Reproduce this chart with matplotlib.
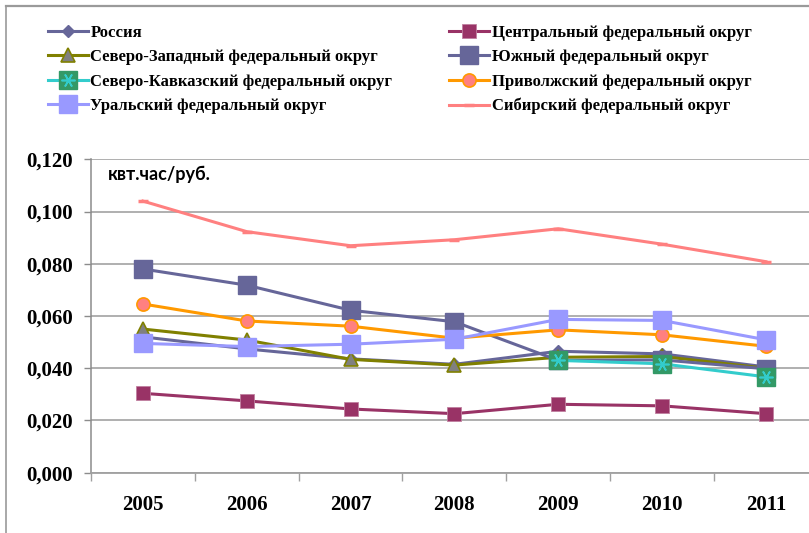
import matplotlib
matplotlib.use("Agg")
import matplotlib.pyplot as plt
from matplotlib.lines import Line2D
from matplotlib.legend_handler import HandlerTuple

years = ["2005", "2006", "2007", "2008", "2009", "2010", "2011"]
y_ticks = [0.000, 0.020, 0.040, 0.060, 0.080, 0.100, 0.120]
y_tick_labels = ["0,000", "0,020", "0,040", "0,060", "0,080", "0,100", "0,120"]
unit_label = "квт.час/руб."

russia = [0.0520, 0.0474, 0.0436, 0.0415, 0.0465, 0.0455, 0.0405]
central = [0.0304, 0.0275, 0.0244, 0.0226, 0.0262, 0.0256, 0.0226]
northwest = [0.0550, 0.0508, 0.0434, 0.0412, 0.0442, 0.0445, 0.0400]
south = [0.0780, 0.0718, 0.0622, 0.0578, 0.0430, 0.0432, 0.0398]
ncaucasus = [None, None, None, None, 0.0430, 0.0417, 0.0367]
volga = [0.0646, 0.0581, 0.0561, 0.0515, 0.0547, 0.0528, 0.0484]
ural = [0.0495, 0.0483, 0.0492, 0.0511, 0.0587, 0.0583, 0.0509]
siberia = [0.1040, 0.0923, 0.0869, 0.0892, 0.0934, 0.0875, 0.0808]

names = ["Россия", "Центральный федеральный округ", "Северо-Западный федеральный округ",
         "Южный федеральный округ", "Северо-Кавказский федеральный округ",
         "Приволжский федеральный округ", "Уральский федеральный округ",
         "Сибирский федеральный округ"]

fig = plt.figure(figsize=(8.09, 5.33), dpi=100)
fig.patch.set_facecolor("white")

# outer chart frame
fig.add_artist(Line2D([5.5/809, 5.5/809], [0, 1 - 5.5/533], transform=fig.transFigure,
                      color="#9a9a9a", lw=1.2))
fig.add_artist(Line2D([5.5/809, 1], [1 - 5.5/533, 1 - 5.5/533], transform=fig.transFigure,
                      color="#9a9a9a", lw=1.6))

AX_L, AX_R, AX_T, AX_B = 91.0, 817.8, 159.3, 472.7
ax = fig.add_axes([AX_L/809, 1 - AX_B/533, (AX_R - AX_L)/809, (AX_B - AX_T)/533])
x = list(range(len(years)))

def xs_ys(vals):
    pts = [(xi, v) for xi, v in zip(x, vals) if v is not None]
    return [p[0] for p in pts], [p[1] for p in pts]

lw = 2.2
h = {}
xx, yy = xs_ys(russia)
h[0], = ax.plot(xx, yy, color="#666699", lw=lw, marker="D", ms=6.5, mfc="#666699", mec="#666699", zorder=3)
xx, yy = xs_ys(central)
h[1], = ax.plot(xx, yy, color="#993366", lw=lw, marker="s", ms=9.5, mfc="#993366", mec="#c080a0", mew=0.6, zorder=4)
xx, yy = xs_ys(northwest)
h[2], = ax.plot(xx, yy, color="#808000", lw=lw, marker="^", ms=10, mfc="#808080", mec="#808000", mew=1.2, zorder=5)
xx, yy = xs_ys(south)
h[3], = ax.plot(xx, yy, color="#666699", lw=lw, marker="s", ms=13, mfc="#666699", mec="#666699", zorder=6)
xx, yy = xs_ys(ncaucasus)
nc1, = ax.plot(xx, yy, color="#33CCCC", lw=lw, marker="s", ms=13, mfc="#339966", mec="#339966", zorder=7)
nc2, = ax.plot(xx, yy, color="#33CCCC", lw=0, marker=(6, 2, 90), ms=10, mec="#33CCCC", mew=1.2, zorder=7.1)
h[4] = (nc1, nc2)
xx, yy = xs_ys(volga)
h[5], = ax.plot(xx, yy, color="#FF9900", lw=lw, marker="o", ms=9.5, mfc="#FF8080", mec="#FF9900", mew=1.2, zorder=8)
xx, yy = xs_ys(ural)
h[6], = ax.plot(xx, yy, color="#9999FF", lw=lw, marker="s", ms=13, mfc="#9999FF", mec="#9999FF", zorder=9)
xx, yy = xs_ys(siberia)
h[7], = ax.plot(xx, yy, color="#FF8080", lw=lw, marker="_", ms=7, mew=2.5, mec="#FF8080", zorder=10)

ax.set_xlim(-0.5, len(years) - 0.5)
ax.set_ylim(y_ticks[0], y_ticks[-1])
ax.set_yticks(y_ticks)
ax.set_yticklabels(y_tick_labels)
ax.set_xticks(x)
ax.set_xticklabels(years)
ax.set_xticks([i - 0.5 for i in range(len(years) + 1)], minor=True)

for lab in ax.get_yticklabels() + ax.get_xticklabels():
    lab.set_fontfamily("Liberation Serif")
    lab.set_fontweight("bold")
    lab.set_fontsize(15)

ax.tick_params(axis="y", which="major", direction="out", length=5, width=1, color="#8c8c8c", pad=8)
ax.tick_params(axis="x", which="major", length=0, pad=16)
ax.tick_params(axis="x", which="minor", direction="out", length=6, width=1, color="#a0a0a0")

ax.grid(axis="y", color="#9a9a9a", lw=1.1)
ax.set_axisbelow(True)
for s in ["top", "right"]:
    ax.spines[s].set_visible(False)
ax.spines["left"].set_color("#8c8c8c")
ax.spines["bottom"].set_color("#a0a0a0")
ax.spines["left"].set_linewidth(1.1)
ax.spines["bottom"].set_linewidth(1.3)

ax.text((108 - AX_L)/(AX_R - AX_L), 1 - (174 - AX_T)/(AX_B - AX_T), unit_label, transform=ax.transAxes,
        fontfamily="Lato", fontweight="bold", fontsize=13, ha="left", va="center")

order = [0, 2, 4, 6, 1, 3, 5, 7]
leg = fig.legend([h[i] for i in order], [names[i] for i in order], ncol=2,
                 loc="upper left", bbox_to_anchor=(48/809, 1 - 25/533), frameon=False,
                 prop=dict(family="Liberation Serif", weight="bold", size=12),
                 handlelength=2.4, handletextpad=0.15, columnspacing=3.4, labelspacing=0.5,
                 borderaxespad=0, borderpad=0,
                 handler_map={tuple: HandlerTuple(ndivide=1)})

fig.savefig("out.png", dpi=100)
